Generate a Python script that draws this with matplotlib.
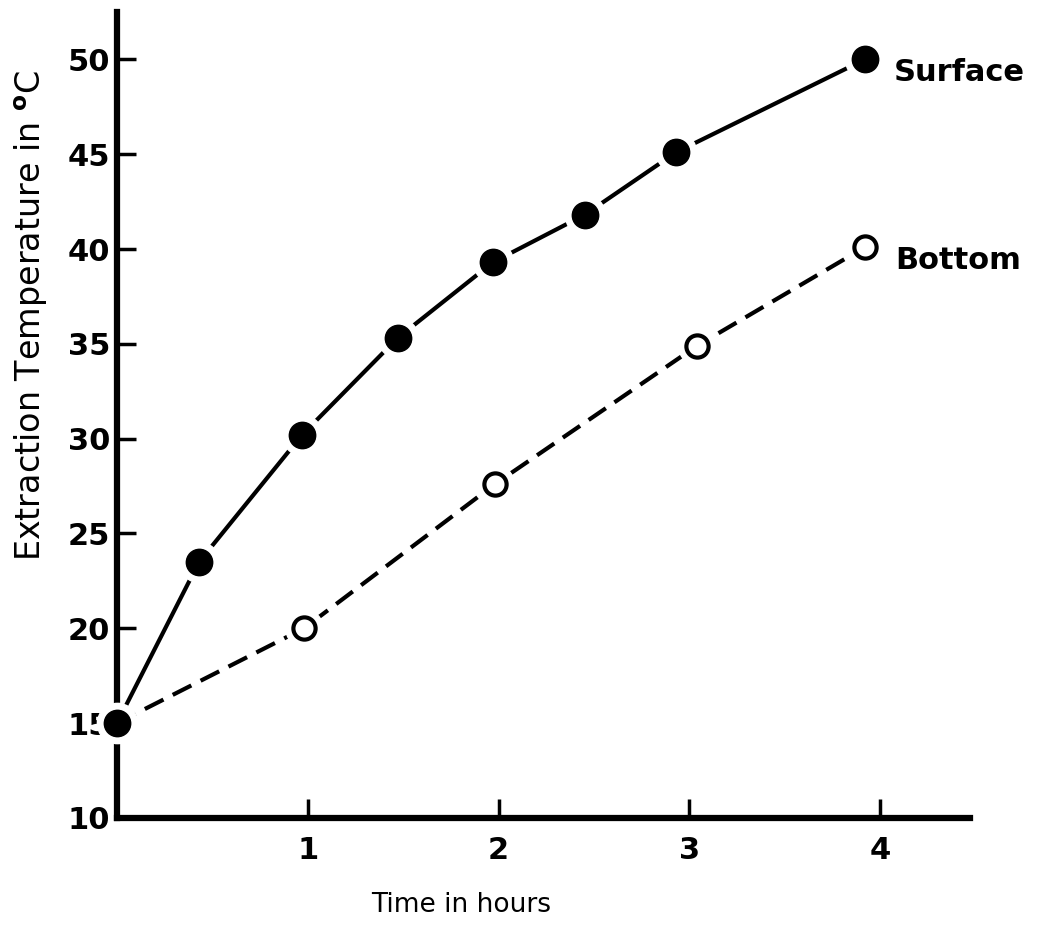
import numpy as np
import matplotlib.pyplot as plt

# values
time_surface = [0, 0.43, 0.97, 1.47, 1.97, 2.45, 2.93, 3.92]
temp_surface = [15, 23.5, 30.2, 35.3, 39.3, 41.8, 45.1, 50]
time_bottom = [0, 0.98, 1.98, 3.04, 3.92]
temp_bottom = [15, 20, 27.6, 34.9, 40.1]

xticks = [1, 2, 3, 4]
yticks = [10, 15, 20, 25, 30, 35, 40, 45, 50]

fig = plt.figure(figsize=(10.39, 9.25), dpi=100)
ax = fig.add_axes([0.1126, 0.1157, 0.821, 0.8714])

# lines
ax.plot(time_surface, temp_surface, color='black', lw=3, zorder=2)
ax.plot(time_bottom, temp_bottom, color='black', lw=3, ls=(0, (5, 2.5)), zorder=2)

# white halo so the line stops short of each marker
ax.plot(time_surface, temp_surface, 'o', ms=29, color='white', mec='white', zorder=3, clip_on=False)
ax.plot(time_bottom, temp_bottom, 'o', ms=27, color='white', mec='white', zorder=3, clip_on=False)
ax.plot(time_surface, temp_surface, 'o', ms=19, color='black', mec='black', zorder=4, clip_on=False)
ax.plot(time_bottom[1:], temp_bottom[1:], 'o', ms=16, mfc='white', mec='black', mew=3, zorder=4, clip_on=False)

ax.text(time_surface[-1] + 0.15, temp_surface[-1] - 0.7, 'Surface', fontsize=22, fontweight='bold',
        va='center', ha='left')
ax.text(time_bottom[-1] + 0.16, temp_bottom[-1] - 0.7, 'Bottom', fontsize=22, fontweight='bold',
        va='center', ha='left')

ax.set_xlim(0, 4.47)
ax.set_ylim(10, 52.5)
ax.set_xticks(xticks)
ax.set_yticks(yticks)
ax.set_xticklabels([str(t) for t in xticks], fontsize=22, fontweight='bold')
ax.set_yticklabels([str(t) for t in yticks], fontsize=22, fontweight='bold')
ax.tick_params(direction='in', length=14, width=2.5)
ax.tick_params(axis='x', pad=13)
ax.tick_params(axis='y', pad=5)

for s in ['top', 'right']:
    ax.spines[s].set_visible(False)
for s in ['left', 'bottom']:
    ax.spines[s].set_linewidth(4.5)

ax.set_xlabel('Time in hours', fontsize=19)
ax.set_ylabel('Extraction Temperature in $^{\\mathbf{o}}$C', fontsize=24)
ax.xaxis.set_label_coords(0.403, -0.092)
ax.yaxis.set_label_coords(-0.079, 0.624)

plt.savefig('out.png', dpi=100)
